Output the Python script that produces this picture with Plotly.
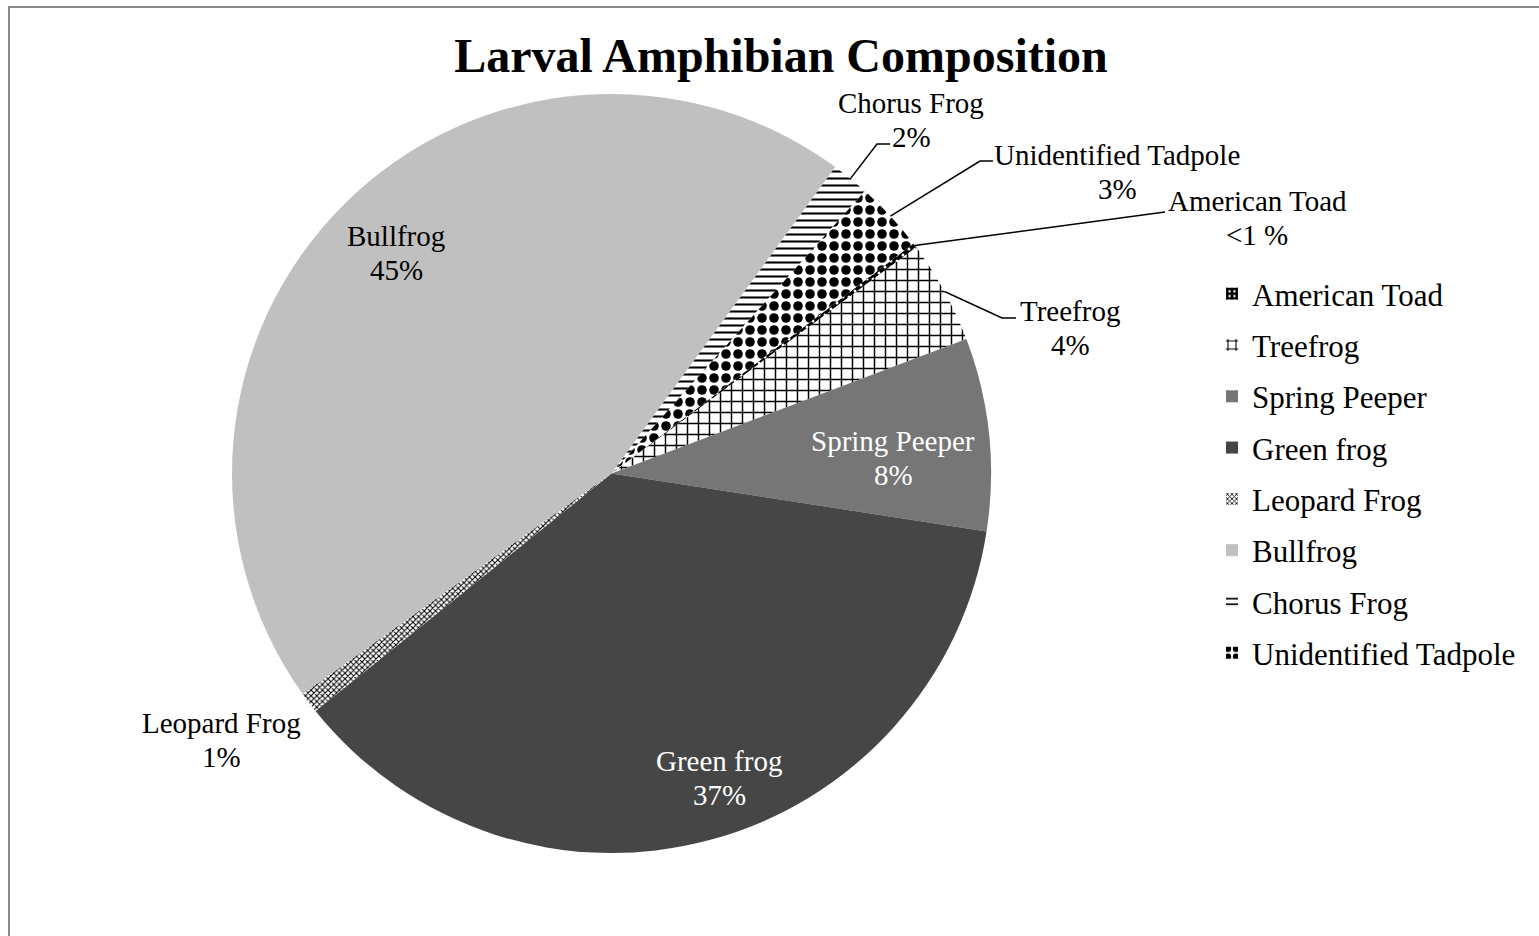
import math
import plotly.graph_objects as go

# ---- data -------------------------------------------------------------
species = ["American Toad", "Treefrog", "Spring Peeper", "Green frog",
           "Leopard Frog", "Bullfrog", "Chorus Frog", "Unidentified Tadpole"]
share = [0.2, 4.4, 8.2, 36.8, 0.9, 44.9, 1.6, 3.0]   # percent of larvae

# ---- styling ----------------------------------------------------------
W, H = 1539, 936
SERIF = "Liberation Serif"

fill = ["#000000", "#ffffff", "#767676", "#464646",
        "#ffffff", "#c0c0c0", "#ffffff", "#ffffff"]
pat_shape = [".", "+", "", "", "x", "", "-", "."]
pat_fg = ["#ffffff", "#000000", "#000000", "#000000",
          "#000000", "#000000", "#000000", "#000000"]
pat_bg = fill
pat_size = [6, 11, 8, 8, 4, 8, 7, 12]
pat_solid = [0.2, 0.25, 0.3, 0.3, 0.45, 0.3, 0.3, 0.5]

# pie geometry in pixels
CX, CY, R = 611.5, 473.5, 379.5
ROTATION = 52.7

# label block centres (px), line spacing and text colours
label_pos = {
    "American Toad": (1257, 218),
    "Treefrog": (1070, 328),
    "Spring Peeper": (893, 458),
    "Green frog": (719, 778),
    "Leopard Frog": (221, 740),
    "Bullfrog": (396, 253),
    "Chorus Frog": (911, 120),
    "Unidentified Tadpole": (1117, 172),
}
LINE_GAP = 34
label_color = {"Spring Peeper": "#ffffff", "Green frog": "#ffffff"}

# leader lines: elbow point and end point (px)
leaders = {
    "Chorus Frog": [(877, 144), (890, 144)],
    "Unidentified Tadpole": [(980, 161), (993, 161)],
    "American Toad": [(1165, 212)],
    "Treefrog": [(1002, 318), (1016, 318)],
}


def px(x):
    return x / W


def py(y):
    return 1 - y / H


total = sum(share)

fig = go.Figure()

fig.add_trace(go.Pie(
    labels=species,
    values=share,
    sort=False,
    direction="clockwise",
    rotation=ROTATION,
    textinfo="none",
    hoverinfo="label+percent",
    showlegend=False,
    marker=dict(
        colors=fill,
        line=dict(width=0),
        pattern=dict(shape=pat_shape, fgcolor=pat_fg, bgcolor=pat_bg,
                     size=pat_size, solidity=pat_solid, fillmode="replace"),
    ),
    domain=dict(x=[px(CX - R), px(CX + R)], y=[py(CY + R), py(CY - R)]),
))

# legend entries (one group each so the spacing can be set)
for i, name in enumerate(species):
    fig.add_trace(go.Bar(
        x=[None], y=[None], name=name, legendgroup=name, showlegend=True,
        marker=dict(color=fill[i], line=dict(width=0),
                    pattern=dict(shape=pat_shape[i], fgcolor=pat_fg[i],
                                 bgcolor=pat_bg[i], size=pat_size[i],
                                 solidity=pat_solid[i], fillmode="replace")),
    ))

annotations = []
shapes = []
cum = 0.0
for i, name in enumerate(species):
    v = share[i]
    mid = math.radians(ROTATION + 360.0 * (cum + v / 2) / total)
    cum += v
    pct = round(100 * v / total)
    pct_txt = "<1 %" if pct < 1 else f"{pct}%"
    lx, ly = label_pos[name]
    col = label_color.get(name, "#000000")
    for txt, yy in ((name, ly - LINE_GAP / 2), (pct_txt, ly + LINE_GAP / 2)):
        annotations.append(dict(
            x=px(lx), y=py(yy), xref="paper", yref="paper",
            text=txt, showarrow=False,
            xanchor="center", yanchor="middle", align="center",
            font=dict(family=SERIF, size=29, color=col),
        ))
    if name in leaders:
        rx = CX + R * math.sin(mid)
        ry = CY - R * math.cos(mid)
        pts = [(rx, ry)] + leaders[name]
        path = "M " + " L ".join(f"{px(a):.5f},{py(b):.5f}" for a, b in pts)
        shapes.append(dict(type="path", path=path, xref="paper", yref="paper",
                           line=dict(color="#000000", width=1.5)))

# chart frame
shapes.append(dict(type="rect", xref="paper", yref="paper",
                   x0=px(9), y0=-0.05, x1=1.05, y1=py(7),
                   line=dict(color="#8a8a8a", width=2), fillcolor="rgba(0,0,0,0)"))

fig.update_layout(
    width=W, height=H,
    margin=dict(l=0, r=0, t=0, b=0),
    paper_bgcolor="#ffffff",
    plot_bgcolor="#ffffff",
    title=dict(text="Larval Amphibian Composition", x=px(781), y=py(55),
               xref="paper", yref="container", xanchor="center", yanchor="middle",
               font=dict(family=SERIF, size=48, color="#000000", weight="bold")),
    xaxis=dict(visible=False),
    yaxis=dict(visible=False),
    legend=dict(x=px(1212), y=py(267), xanchor="left", yanchor="top",
                traceorder="grouped", tracegroupgap=8,
                font=dict(family=SERIF, size=31, color="#000000"),
                bgcolor="rgba(0,0,0,0)", borderwidth=0),
    annotations=annotations,
    shapes=shapes,
)

fig.write_html("out.html")
